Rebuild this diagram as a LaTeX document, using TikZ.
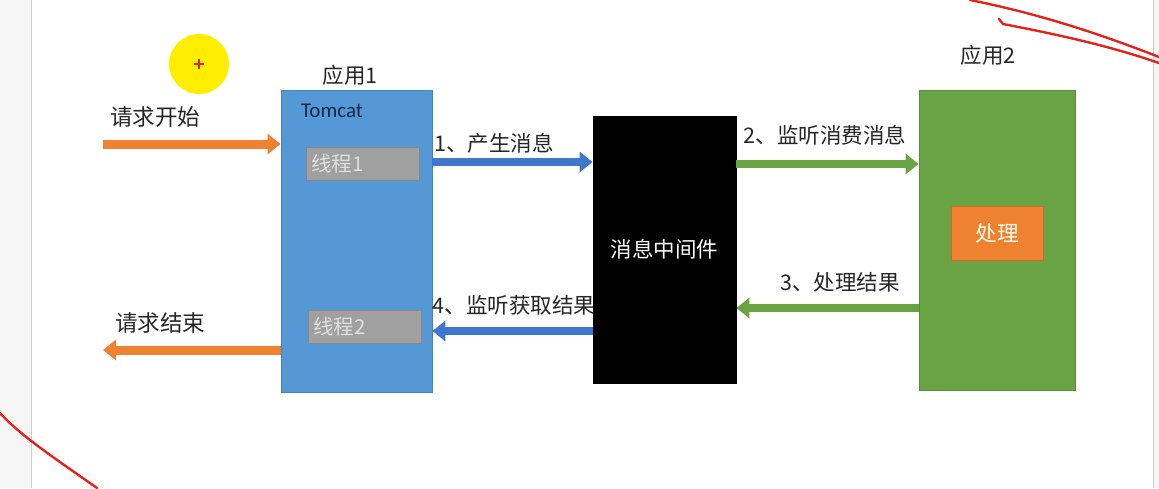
\documentclass[tikz,border=0pt]{standalone}
\usepackage{fontspec}
\setmainfont{Noto Sans CJK SC}
\newfontfamily\latinfont{Carlito}
\usetikzlibrary{arrows.meta, positioning}
\definecolor{appblue}{HTML}{5499D6}
\definecolor{appgreen}{HTML}{6AA343}
\definecolor{reqorange}{HTML}{EF8230}
\definecolor{msgblue}{HTML}{3F77CC}
\definecolor{threadgray}{HTML}{A0A0A0}
\definecolor{penred}{HTML}{E3231B}
\definecolor{tomcatnavy}{HTML}{15294A}
\tikzset{
    lbl/.style={font=\fontsize{21.5}{25}\selectfont, text=black!85, inner sep=0pt},
    box/.style={draw=#1!85!black, fill=#1, inner sep=0pt, line width=0.8pt},
    thread/.style={box=threadgray, minimum width=113pt, minimum height=33pt,
        text width=103pt, inner xsep=5pt, align=left,
        text=white!88!black, font=\fontsize{20.5}{24}\selectfont},
    fat/.style={draw=#1, line width=8pt, -{Triangle[length=13pt, width=20pt]}},
    pen/.style={draw=penred, line width=2.4pt, line cap=round},
}

\begin{document}
\begin{tikzpicture}[x=1pt, y=-1pt]

% Rahmen und Seitenraender
\useasboundingbox (0,0) rectangle (1159,488);
\fill[white] (0,0) rectangle (1159,488);
\fill[gray!8] (0,0) rectangle (31,488);
\draw[gray!40] (31,0) -- (31,488);
\fill[gray!8] (1153,0) rectangle (1159,488);
\draw[gray!40] (1153,0) -- (1153,488);

% Mauszeiger
\fill[yellow!95!orange] (199,64) circle (30);
\draw[penred, line width=1.6pt] (194,64) -- (204,64) (199,59) -- (199,69);

% Anwendung 1
\node[box=appblue, minimum width=151pt, minimum height=302pt] (app1) at (356.5,241) {};
\node[lbl] (app1lbl) at (350,75) {应用1};
\node[font=\latinfont\fontsize{21}{25}\selectfont, text=tomcatnavy, inner sep=0pt] (tomcat) at (332,111) {Tomcat};
\node[thread] (thread1) at (362.5,163.5) {线程1};
\node[thread] (thread2) at (364.5,327) {线程2};

% Nachrichten-Middleware
\node[box=black, minimum width=143pt, minimum height=267pt, text=white,
      font=\fontsize{21.5}{25}\selectfont] (mq) at (664.5,249.5) {消息中间件};

% Anwendung 2
\node[box=appgreen, minimum width=156pt, minimum height=300pt] (app2) at (997,240) {};
\node[lbl] (app2lbl) at (988,55) {应用2};
\node[box=reqorange, minimum width=92pt, minimum height=54pt, text=white!92!yellow,
      font=\fontsize{21.5}{25}\selectfont] (proc) at (997,233) {处理};

% Anfrage rein und raus
\coordinate (reqin) at (103,144);
\coordinate (reqout) at (103,350);
\draw[fat=reqorange, line width=9pt] (reqin) -- (reqin -| app1.west);
\draw[fat=reqorange, line width=9pt] (reqout -| app1.west) -- (reqout);
\node[lbl, font=\fontsize{22.5}{26}\selectfont] (start) at (155,117) {请求开始};
\node[lbl, font=\fontsize{22.5}{26}\selectfont] (stop) at (160,323) {请求结束};

% Nachrichtenfluss
\draw[fat=msgblue] (app1.east |- 0,162) -- (mq.west |- 0,162);
\draw[fat=appgreen] (mq.east |- 0,164) -- (app2.west |- 0,164);
\draw[fat=appgreen] (app2.west |- 0,308) -- (mq.east |- 0,308);
\draw[fat=msgblue] (mq.west |- 0,331) -- (app1.east |- 0,331);

% Beschriftung der Pfeile
\node[lbl] (step1) at (494,143) {1、产生消息};
\node[lbl] (step2) at (825,135) {2、监听消费消息};
\node[lbl] (step3) at (840,282) {3、处理结果};
\node[lbl] (step4) at (514,305) {4、监听获取结果};

% rote Anmerkungen
\draw[pen] (970,0) .. controls (1040,14) and (1100,34) .. (1159,57);
\draw[pen] (999,19) -- (1003,24) .. controls (1060,35) and (1110,46) .. (1159,63);
\draw[pen] (0,413) .. controls (20,435) and (50,455) .. (97,488);

\end{tikzpicture}
\end{document}
